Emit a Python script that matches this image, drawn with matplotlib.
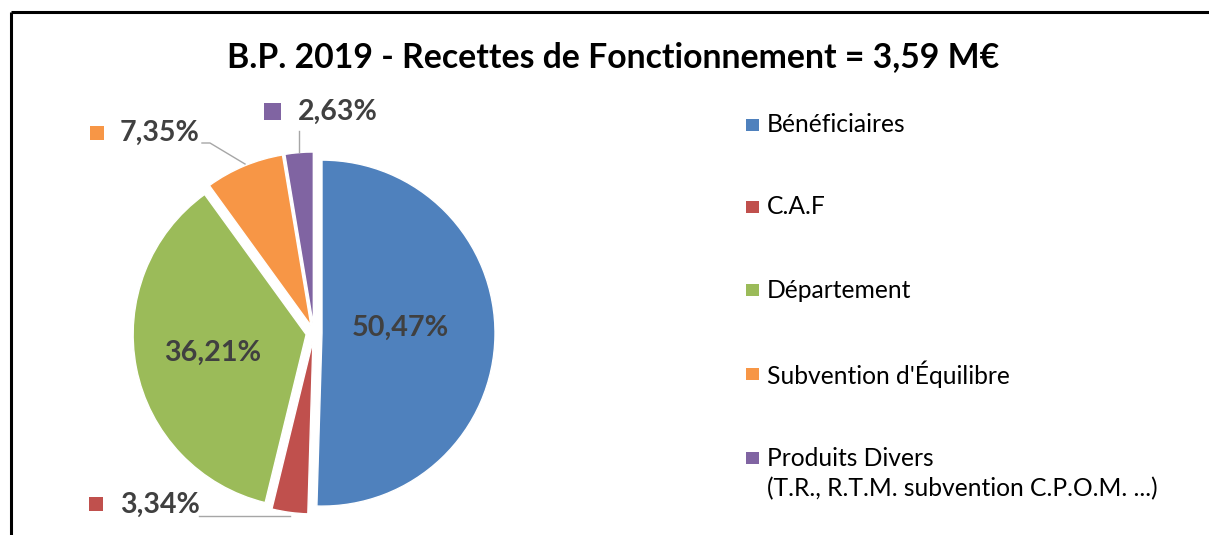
import matplotlib
matplotlib.use("Agg")
import matplotlib.pyplot as plt
from matplotlib.patches import Rectangle

W, H = 1209, 535

# data
categories = ["Bénéficiaires", "C.A.F", "Département",
              "Subvention d'Équilibre",
              "Produits Divers\n(T.R., R.T.M. subvention C.P.O.M. ...)"]
shares = [50.47, 3.34, 36.21, 7.35, 2.63]
colors = ["#4F81BD", "#C0504D", "#9BBB59", "#F79646", "#8064A2"]
title = "B.P. 2019 - Recettes de Fonctionnement = 3,59 M€"

TXT = "#404040"
FONT = "Lato"


def fmt(v):
    return f"{v:.2f}".replace(".", ",") + "%"


def Y(y):
    # image row -> data y
    return H - y


fig = plt.figure(figsize=(W / 100, H / 100), dpi=100)
ax = fig.add_axes([0, 0, 1, 1])

cx, cy, r = 314, 333, 173
ax.pie(shares, colors=colors, startangle=90, counterclock=False,
       center=(cx, Y(cy)), radius=r, explode=[8] * len(shares),
       wedgeprops=dict(edgecolor="white", linewidth=1))
ax.set_xlim(0, W)
ax.set_ylim(0, H)
ax.set_aspect("equal")
ax.axis("off")

# frame of the chart area (top and left visible)
ax.plot([11, W], [Y(12), Y(12)], color="black", lw=2.2, solid_capstyle="butt")
ax.plot([11, 11], [Y(12), 0], color="black", lw=2.2, solid_capstyle="butt")

ax.text(613, Y(57), title, ha="center", va="center", fontsize=24.3,
        fontweight="bold", family=FONT, color="black")

# inside labels
inside = {0: (400, 328), 2: (213, 353)}
for i, (x, y) in inside.items():
    ax.text(x, Y(y), fmt(shares[i]), ha="center", va="center", fontsize=20.7,
            fontweight="bold", family=FONT, color=TXT)

# outside labels with key squares: (square x, square y, size, text x, text y)
outside = {
    3: (90, 126, 14, 120, 133),
    4: (264, 103, 17, 298, 112),
    1: (89, 497, 14, 120, 505),
}
for i, (sx, sy, s, tx, ty) in outside.items():
    ax.add_patch(Rectangle((sx, Y(sy + s)), s, s, color=colors[i], lw=0))
    ax.text(tx, Y(ty), fmt(shares[i]), ha="left", va="center", fontsize=20.5,
            fontweight="bold", family=FONT, color=TXT)

# leader lines
lc = "#A6A6A6"
ax.plot([202, 210, 245], [Y(143), Y(143), Y(164)], color=lc, lw=1)
ax.plot([299, 299], [Y(131), Y(152)], color=lc, lw=1)
ax.plot([199, 290], [Y(516), Y(516)], color=lc, lw=1)

# legend
leg_y = [125, 207, 290, 374, 458]
for name, c, y in zip(categories, colors, leg_y):
    ax.add_patch(Rectangle((746, Y(y + 6)), 13, 12, color=c, lw=0))
    for k, line in enumerate(name.split("\n")):
        ax.text(767, Y(y + 31 * k), line, ha="left", va="center",
                fontsize=17.7, family=FONT, color="black")

fig.savefig("out.png", dpi=100)
